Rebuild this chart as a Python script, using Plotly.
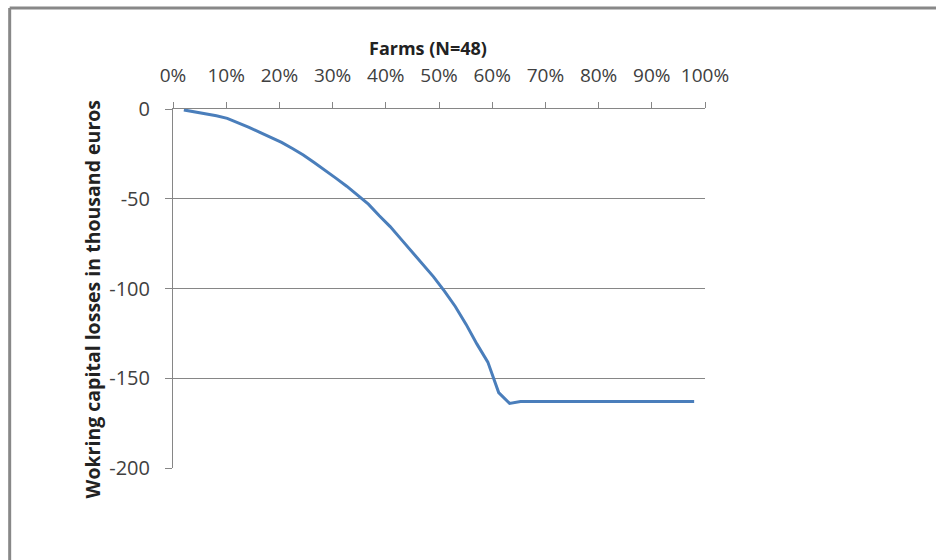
import plotly.graph_objects as go

# Share of farms (%), ranked by working-capital loss
farm_share = [2.04, 4.08, 6.12, 8.16, 10.20, 12.24, 14.29, 16.33, 18.37, 20.41,
              22.45, 24.49, 26.53, 28.57, 30.61, 32.65, 34.69, 36.73, 38.78, 40.82,
              42.86, 44.90, 46.94, 48.98, 51.02, 53.06, 55.10, 57.14, 59.18, 61.22,
              63.27, 65.31, 67.35, 69.39, 71.43, 73.47, 75.51, 77.55, 79.59, 81.63,
              83.67, 85.71, 87.76, 89.80, 91.84, 93.88, 95.92, 97.96]

# Cumulative working-capital losses (thousand euros)
losses = [-0.5, -1.5, -2.5, -3.8, -5.2, -7.6, -10.2, -13.0, -15.8, -18.6,
          -22.0, -25.6, -29.8, -34.0, -38.5, -43.0, -48.0, -53.0, -59.5, -65.5,
          -72.5, -79.5, -86.0, -93.5, -101.5, -110.0, -120.0, -131.0, -141.0, -158.0,
          -164.0, -163.0, -163.0, -163.0, -163.0, -163.0, -163.0, -163.0, -163.0, -163.0,
          -163.0, -163.0, -163.0, -163.0, -163.0, -163.0, -163.0, -163.0]

x_ticks = [0, 10, 20, 30, 40, 50, 60, 70, 80, 90, 100]
x_tick_text = [f"{v}%" for v in x_ticks]
y_ticks = [0, -50, -100, -150, -200]
y_tick_text = [str(v) for v in y_ticks]  # plain hyphen-minus

x_title = "Farms (N=48)"
y_title = "Wokring capital losses in thousand euros"

GRID = "#868686"
FONT = "Open Sans"

fig = go.Figure()
fig.add_trace(go.Scatter(
    x=farm_share, y=losses, mode="lines",
    line=dict(color="#4A7EBB", width=3),
    showlegend=False, hoverinfo="skip",
))

fig.update_layout(
    width=936, height=560,
    margin=dict(l=173, r=231, t=109, b=92),
    paper_bgcolor="white", plot_bgcolor="white",
    font=dict(family=FONT, color="#404040"),
    xaxis=dict(
        side="top", range=[0, 100], tickvals=x_ticks, ticktext=x_tick_text,
        ticks="outside", ticklen=6, tickcolor=GRID, tickwidth=1,
        showline=True, linecolor=GRID, linewidth=1,
        showgrid=False, zeroline=False,
        tickfont=dict(size=19, family=FONT, color="#404040"),
        ticklabelstandoff=12,
    ),
    yaxis=dict(
        range=[-200, 0], tickvals=y_ticks, ticktext=y_tick_text,
        ticks="outside", ticklen=7, tickcolor=GRID, tickwidth=1,
        showline=True, linecolor=GRID, linewidth=1,
        showgrid=True, gridcolor=GRID, gridwidth=1, zeroline=False,
        tickfont=dict(size=20, family=FONT, color="#404040"),
        ticklabelstandoff=11,
    ),
    annotations=[
        dict(text=f"<b>{x_title}</b>", xref="paper", yref="paper",
             x=0.479, y=1.17, xanchor="center", yanchor="middle",
             showarrow=False, font=dict(size=18, family=FONT, color="#222")),
        dict(text=f"<b>{y_title}</b>", xref="paper", yref="paper",
             x=-0.152, y=0.47, xanchor="center", yanchor="middle", textangle=-90,
             showarrow=False, font=dict(size=19.5, family=FONT, color="#222")),
    ],
    shapes=[
        # chart-area frame (top and left edges visible)
        dict(type="line", xref="paper", yref="paper", x0=-0.307, x1=1.45,
             y0=1.2816, y1=1.2816, line=dict(color="#888888", width=3)),
        dict(type="line", xref="paper", yref="paper", x0=-0.307, x1=-0.307,
             y0=1.2816, y1=-0.3, line=dict(color="#888888", width=3)),
    ],
)

fig.write_html("out.html")
